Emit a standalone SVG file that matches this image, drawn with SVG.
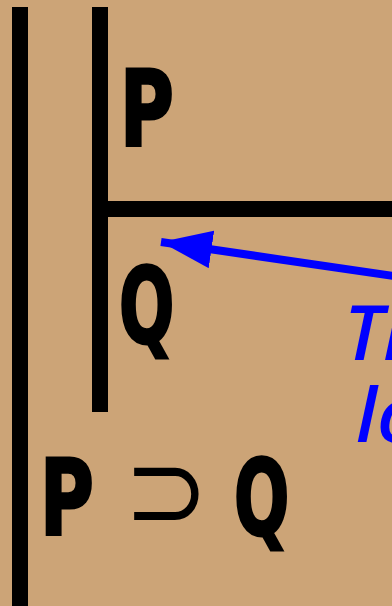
<svg xmlns="http://www.w3.org/2000/svg" width="392" height="606" viewBox="0 0 392 606">
<defs>
<style>
.bar{fill:#000}
.sym{font-family:"DejaVu Sans",sans-serif;font-weight:bold;font-size:105px;fill:#000;stroke:#000;stroke-width:3;stroke-linejoin:miter}
.op{font-family:"DejaVu Sans",sans-serif;font-size:112px;fill:#000}
.note{font-family:"Open Sans",sans-serif;font-style:italic;font-weight:600;font-size:76px;fill:#0000ff}
</style>
<marker id="ah" markerUnits="userSpaceOnUse" markerWidth="52" markerHeight="38" refX="51" refY="19" orient="auto">
<path d="M0,0 L51,19 L0,38 Z" fill="#0000ff"/>
</marker>
</defs>
<rect width="392" height="606" fill="#cca477"/>
<g id="outer-bar"><rect class="bar" x="12" y="7" width="16" height="600"/></g>
<g id="inner-bar"><rect class="bar" x="92" y="7" width="16" height="405"/></g>
<g id="divider"><rect class="bar" x="92" y="201" width="300" height="16"/></g>
<g id="P"><text class="sym" transform="translate(120,146) scale(0.7,1)">P</text></g>
<g id="Q"><text class="sym" transform="translate(119,343) scale(0.62,1)">Q</text></g>
<g id="conclusion">
<text class="sym" transform="translate(40,535) scale(0.7,1)">P</text>
<text class="op" transform="translate(124,529) scale(0.9,1)">⊃</text>
<text class="sym" transform="translate(234,535) scale(0.62,1)">Q</text>
</g>
<g id="connectors">
<line x1="400" y1="277" x2="161" y2="242" stroke="#0000ff" stroke-width="8" marker-end="url(#ah)"/>
</g>
<g id="note"><text class="note" x="344" y="360">Th</text><text class="note" x="356" y="442">lo</text></g>
</svg>
